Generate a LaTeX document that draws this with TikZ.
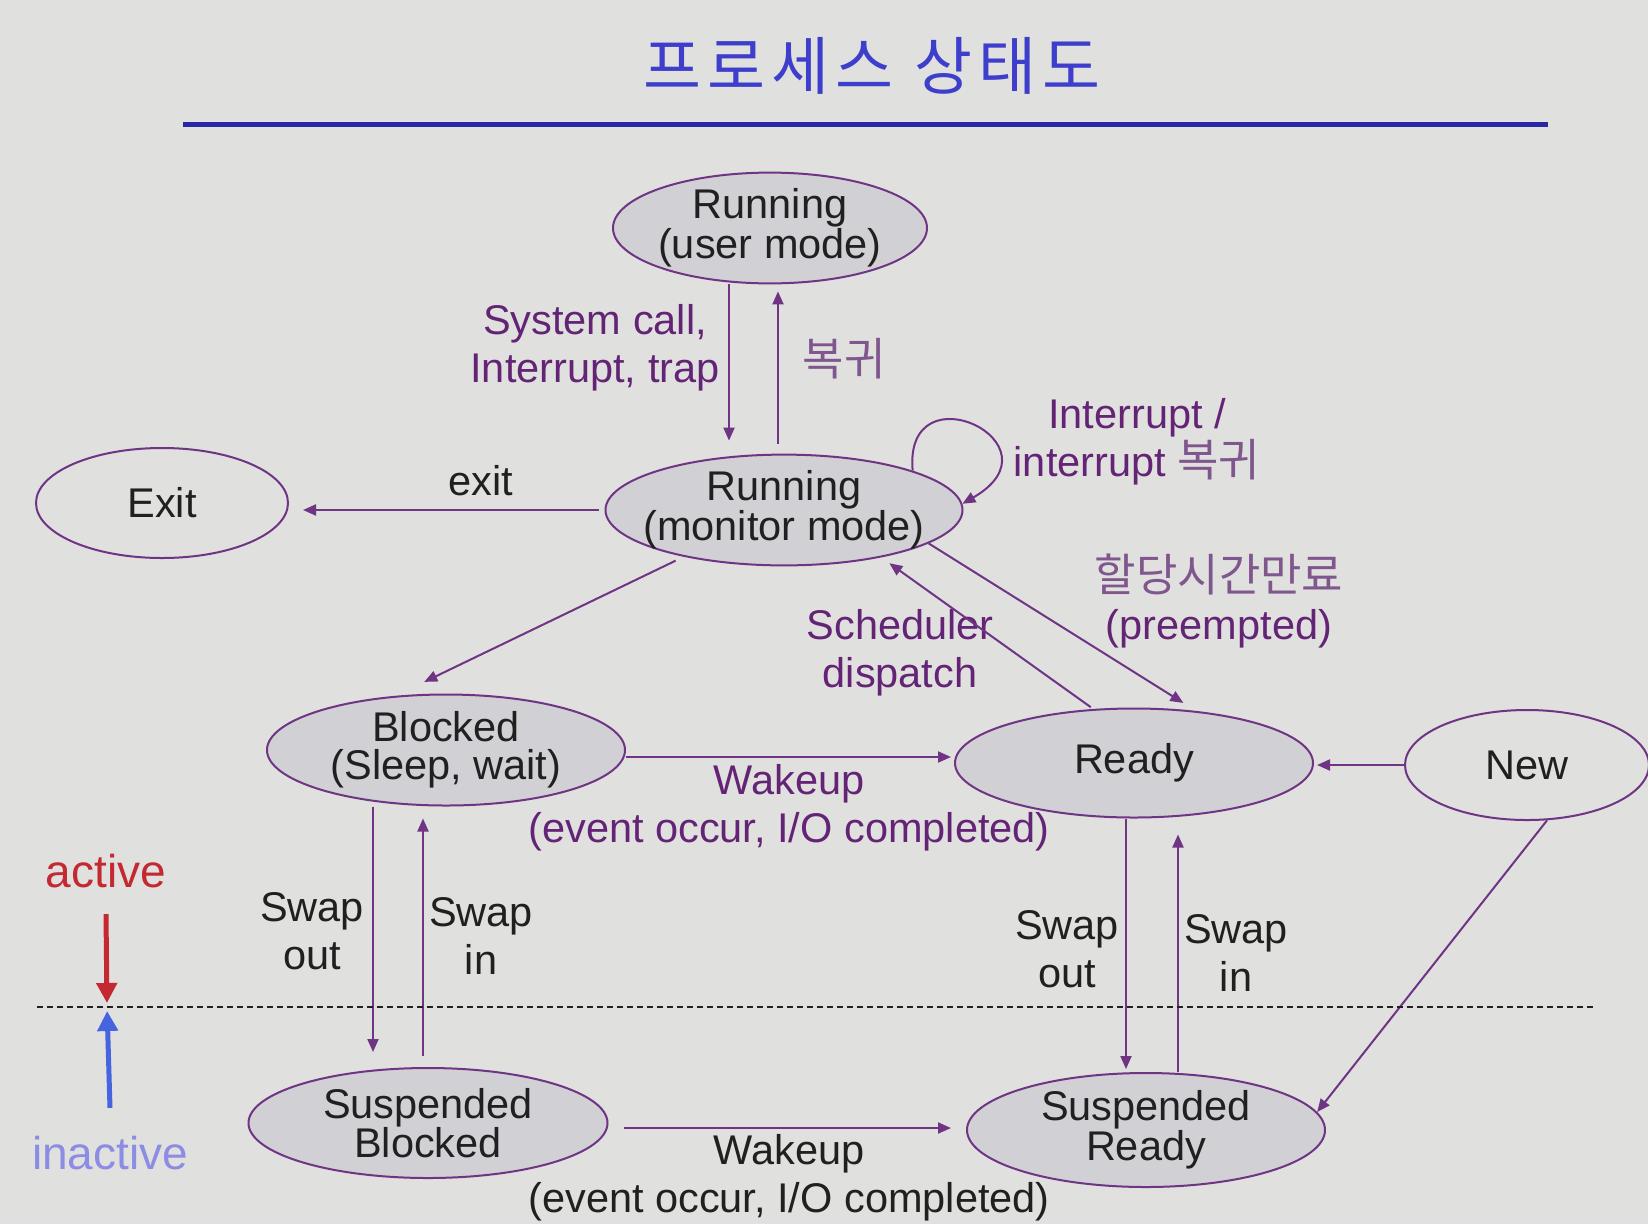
\documentclass[tikz,border=0pt]{standalone}
\usepackage{fontspec}
\usepackage{xcolor}
\usepackage{tikz}
\usetikzlibrary{arrows.meta,positioning,shapes.geometric,calc}
\setmainfont{Liberation Sans}
\newfontfamily\krfont{Noto Sans CJK KR}
\newfontfamily\krtitle{Noto Sans CJK KR}[LetterSpace=10]
\newcommand{\statesize}{\fontsize{41.5}{35}\selectfont}
\newcommand{\labelsize}{\fontsize{41.5}{48}\selectfont}
\newcommand{\krsize}{\fontsize{45}{48}\selectfont}
\newcommand{\levelsize}{\fontsize{46}{48}\selectfont}
\definecolor{slidegray}{RGB}{224, 224, 222}
\definecolor{stategray}{RGB}{209, 209, 213}
\definecolor{stateline}{RGB}{112, 52, 132}
\definecolor{labelpurple}{RGB}{100, 36, 118}
\definecolor{krpurple}{RGB}{128, 86, 142}
\definecolor{textblack}{RGB}{32, 32, 32}
\definecolor{titleblue}{RGB}{62, 62, 204}
\definecolor{ruleblue}{RGB}{40, 40, 165}
\definecolor{activered}{RGB}{196, 40, 48}
\definecolor{inactiveblue}{RGB}{140, 140, 228}
\definecolor{uparrowblue}{RGB}{70, 100, 222}
\tikzset{
  statebox/.style={
    ellipse,
    draw=stateline,
    line width=2pt,
    fill=stategray,
    inner xsep=-40pt,
    inner ysep=0pt,
    align=center,
    text=textblack,
    font=\statesize
  },
  endbox/.style={
    statebox,
    fill=none
  },
  statearrow/.style={
    -{Triangle[length=13pt,width=11pt]},
    line width=2pt,
    draw=stateline
  },
  edgelabel/.style={
    align=center,
    inner sep=0pt,
    text=labelpurple,
    font=\labelsize
  },
  plainlabel/.style={
    edgelabel,
    text=textblack
  },
  levelarrow/.style={
    -{Triangle[length=20pt,width=20pt]},
    line width=5pt
  }
}

\begin{document}
\begin{tikzpicture}[x=1pt, y=-1pt]
  \fill[slidegray] (0,0) rectangle (1648,1224);
  \useasboundingbox (0,0) rectangle (1648,1224);

  \node[text=titleblue, font=\krtitle\fontsize{63}{63}\selectfont, inner sep=0pt] (title) at (872,66) {프로세스 상태도};
  \draw[ruleblue, line width=5pt] (183,124) -- (1548,124);

  \node[statebox, minimum width=314pt, minimum height=106pt] (user) at (770,228) {Running\\(user mode)};
  \node[statebox, minimum width=357pt, minimum height=110pt] (monitor) at (784,510) {Running\\(monitor mode)};
  \node[endbox, minimum width=252pt, minimum height=110pt] (exit) at (162,503) {Exit};
  \node[statebox, minimum width=358pt, minimum height=111pt, font=\fontsize{41.5}{38}\selectfont] (blocked) at (446,750) {Blocked\\(Sleep, wait)};
  \node[statebox, minimum width=358pt, minimum height=109pt] (ready) at (1134,763) {Ready};
  \node[endbox, minimum width=244pt, minimum height=110pt] (new) at (1527,765) {New};
  \node[statebox, minimum width=359pt, minimum height=110pt] (sblocked) at (428,1123) {Suspended\\Blocked};
  \node[statebox, minimum width=358pt, minimum height=114pt] (sready) at (1146,1130) {Suspended\\Ready};

  \node[edgelabel] (syscall) at (595,348) {System call,\\Interrupt, trap};
  \node[edgelabel, text=krpurple, font=\krfont\krsize] (back) at (844,359) {복귀};
  \node[edgelabel] (intr) at (1137,442) {Interrupt /\\interrupt {\krfont\krsize\color{krpurple}복귀}};
  \node[plainlabel] (exitlabel) at (481,481) {exit};
  \node[edgelabel] (dispatch) at (900,653) {Scheduler\\dispatch};
  \node[edgelabel] (preempt) at (1219,601) {{\krfont\krsize\color{krpurple}할당시간만료}\\(preempted)};
  \node[edgelabel] (wake) at (789,808) {Wakeup\\(event occur, I/O completed)};
  \node[plainlabel] (swake) at (789,1178) {Wakeup\\(event occur, I/O completed)};
  \node[plainlabel] (bout) at (312,931) {Swap\\out};
  \node[plainlabel] (bin) at (481,936) {Swap\\in};
  \node[plainlabel] (rout) at (1067,949) {Swap\\out};
  \node[plainlabel] (rin) at (1236,953) {Swap\\in};
  \node[plainlabel, text=activered, font=\levelsize] (active) at (106,871) {active};
  \node[plainlabel, text=inactiveblue, font=\levelsize] (inactive) at (110,1153) {inactive};

  \draw[statearrow, shorten >=13pt] ([xshift=-41pt]user.south) -- ([xshift=-41pt]user.south |- monitor.north);
  \draw[statearrow, shorten <=10pt, shorten >=7pt] ([xshift=-6pt]monitor.north) -- ([xshift=-6pt]monitor.north |- user.south);
  \draw[statearrow] (monitor.17) .. controls +(95:105pt) and +(30:120pt) .. (monitor.2);
  \draw[statearrow, shorten <=6pt, shorten >=14pt] (monitor.west) -- (monitor.west -| exit.east);
  \draw[statearrow, shorten <=9pt, shorten >=32pt] (monitor.205) -- (blocked.133);
  \draw[statearrow, shorten <=3pt, shorten >=10pt] (ready.127) -- (monitor.334);
  \draw[statearrow, shorten >=15pt] (monitor.347) -- (ready.40);
  \draw[statearrow, shorten >=3pt] ([yshift=-7pt]blocked.east) -- ([yshift=-7pt]blocked.east -| ready.west);
  \draw[statearrow, shorten >=3pt] (new.west) -- (new.west -| ready.east);
  \draw[statearrow] (new.290) -- (sready.6);
  \draw[statearrow, shorten >=15pt] ([xshift=-73pt]blocked.south) -- ([xshift=-73pt]blocked.south |- sblocked.north);
  \draw[statearrow, shorten <=11pt, shorten >=12pt] ([xshift=-5pt]sblocked.north) -- ([xshift=-5pt]sblocked.north |- blocked.south);
  \draw[statearrow, shorten >=3pt] ([xshift=-8pt]ready.south) -- ([xshift=-8pt]ready.south |- sready.north);
  \draw[statearrow, shorten >=16pt] ([xshift=32pt]sready.north) -- ([xshift=32pt]sready.north |- ready.south);
  \draw[statearrow, shorten <=15pt, shorten >=15pt] ([yshift=-5pt]sblocked.east) -- ([yshift=-5pt]sblocked.east -| sready.west);

  \draw[textblack, line width=1.5pt, dash pattern=on 6pt off 4pt] (37,1007) -- (1594,1007);
  \coordinate (split) at (107,1007);
  \draw[levelarrow, activered, shorten >=4pt] ([yshift=-26pt]active.south) -- (split);
  \draw[levelarrow, uparrowblue, shorten >=4pt] ([yshift=28pt]inactive.north) -- (split);
\end{tikzpicture}
\end{document}
